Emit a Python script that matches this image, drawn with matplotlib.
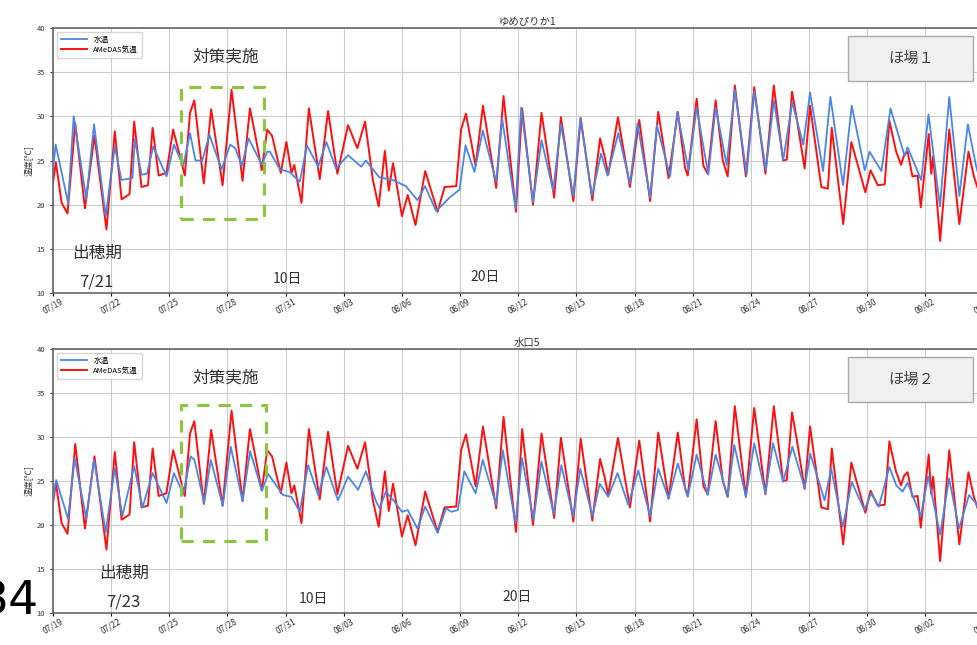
import matplotlib
matplotlib.use("Agg")
import matplotlib.pyplot as plt
from matplotlib.patches import Rectangle

plt.rcParams['font.family'] = ['Noto Sans CJK JP', 'DejaVu Sans']

# days since 07/19 00:00, values read at the turning points of each curve
air_t = [0.0, 0.15, 0.45, 0.75, 1.15, 1.65, 2.14, 2.76, 3.19, 3.54, 3.95, 4.19, 4.57, 4.9,
         5.14, 5.45, 5.85, 6.2, 6.8, 7.07, 7.29, 7.78, 8.16, 8.75, 9.21, 9.78, 10.16, 10.38,
         10.77, 11.05, 11.3, 11.75, 12.04, 12.3, 12.45, 12.82, 13.2, 13.76, 14.19, 14.67,
         15.22, 15.7, 16.1, 16.5, 16.8, 17.12, 17.32, 17.54, 18.0, 18.3, 18.7, 19.2, 19.84,
         20.2, 20.8, 21.05, 21.3, 21.8, 22.18, 22.86, 23.24, 23.88, 24.2, 24.76, 25.2, 25.85,
         26.2, 26.84, 27.22, 27.82, 28.22, 28.45, 28.64, 29.14, 29.76, 30.24, 30.8, 31.22,
         31.75, 32.23, 32.6, 32.74, 33.2, 33.55, 33.77, 34.18, 34.55, 34.8, 35.17, 35.74,
         36.17, 36.75, 37.18, 37.66, 37.85, 38.12, 38.35, 38.77, 39.05, 39.63, 39.97, 40.17,
         40.76, 41.18, 41.9, 42.17, 42.54, 42.9, 43.14, 43.48, 43.74, 43.9, 44.08, 44.33,
         44.6, 44.76, 45.17, 45.3, 45.4, 45.76, 46.23, 46.75, 47.22, 47.5, 47.9]
air_v = [22.5, 24.8, 20.2, 19.0, 29.2, 19.6, 27.8, 17.2, 28.3, 20.6, 21.2, 29.4, 22.0, 22.2,
         28.7, 23.3, 23.6, 28.5, 23.3, 30.4, 31.8, 22.4, 30.8, 22.2, 33.0, 22.7, 30.9, 28.5,
         23.9, 28.5, 27.8, 23.6, 27.1, 23.6, 24.5, 20.2, 30.9, 22.9, 30.6, 23.5,
         29.0, 26.4, 29.4, 22.8, 19.8, 26.1, 21.6, 24.7, 18.7, 21.1, 17.7, 23.8, 19.2,
         22.0, 22.1, 28.5, 30.3, 24.4, 31.2, 21.9, 32.3, 19.2, 30.9, 20.0, 30.4, 20.8,
         29.9, 20.4, 29.8, 20.5, 27.5, 25.5, 23.4, 29.9, 22.0, 29.6, 20.4, 30.5,
         23.0, 30.5, 24.2, 23.3, 32.0, 24.4, 23.5, 31.8, 25.0, 23.2, 33.5, 23.2,
         33.3, 23.5, 33.5, 25.0, 25.1, 32.8, 29.9, 24.1, 31.2, 22.0, 21.8, 28.7,
         17.8, 27.1, 21.4, 23.9, 22.2, 22.3, 29.5, 26.1, 24.5, 25.6, 26.0, 23.2,
         23.3, 19.7, 28.0, 23.5, 25.5, 15.9, 28.5, 17.8, 26.0, 23.2, 20.5]

water1_t = [0.0, 0.14, 0.78, 1.07, 1.72, 2.12, 2.72, 3.19, 3.53, 4.1, 4.22, 4.57, 4.85, 5.17,
            5.86, 6.24, 6.72, 7.07, 7.35, 7.7, 8.07, 8.7, 9.14, 9.4, 9.74, 10.09, 10.78, 11.05,
            11.19, 11.7, 12.2, 12.73, 13.1, 13.68, 14.1, 14.6, 15.22, 15.9, 16.14, 16.83,
            17.52, 18.2, 18.8, 19.19, 19.76, 20.1, 20.45, 20.97, 21.28, 21.74, 22.17, 22.86,
            23.17, 23.86, 24.15, 24.76, 25.2, 25.8, 26.2, 26.84, 27.2, 27.8, 28.27, 28.6,
            29.16, 29.76, 30.15, 30.8, 31.15, 31.83, 32.2, 32.78, 33.2, 33.8, 34.18, 34.75,
            35.17, 35.78, 36.17, 36.77, 37.18, 37.67, 38.13, 38.7, 39.05, 39.72, 40.1, 40.75,
            41.2, 41.87, 42.12, 42.73, 43.2, 43.93, 44.08, 44.78, 45.16, 45.75, 46.23, 46.75,
            47.19, 47.6, 47.9]
water1_v = [24.0, 26.8, 20.2, 30.0, 20.6, 29.1, 18.7, 26.6, 22.8, 23.0, 27.4, 23.4, 23.5, 26.6,
            23.2, 26.8, 24.4, 28.1, 25.0, 25.0, 27.9, 24.0, 26.8, 26.4, 24.4, 27.5, 24.5, 26.0,
            26.0, 24.0, 23.7, 22.6, 26.7, 24.3, 27.1, 24.1, 25.6, 24.3, 25.0, 23.1,
            22.8, 22.1, 20.5, 22.1, 19.3, 20.0, 20.8, 21.7, 26.7, 23.7, 28.4, 22.6,
            29.7, 19.6, 31.0, 20.3, 27.3, 21.6, 29.1, 21.0, 29.8, 21.0, 25.8, 23.3,
            28.1, 22.4, 29.2, 20.8, 29.0, 23.2, 30.5, 23.9, 31.0, 23.4, 31.0, 24.5,
            33.0, 23.4, 32.8, 23.9, 31.8, 25.1, 31.6, 26.8, 32.7, 23.8, 32.2, 22.2,
            31.2, 23.9, 26.0, 23.8, 30.9, 25.5, 26.5, 22.8, 30.2, 19.8, 32.2, 21.0,
            29.1, 24.5, 22.0]

water2_t = [0.0, 0.17, 0.78, 1.12, 1.72, 2.12, 2.72, 3.19, 3.58, 4.19, 4.62, 5.14, 5.86, 6.24,
            6.72, 7.1, 7.3, 7.8, 8.14, 8.76, 9.17, 9.78, 10.17, 10.78, 11.1, 11.87, 12.3,
            12.73, 13.16, 13.68, 14.1, 14.7, 15.22, 15.74, 16.14, 16.66, 16.85, 17.17, 17.6,
            18.0, 18.3, 18.8, 19.2, 19.84, 20.27, 20.55, 20.88, 21.22, 21.8, 22.17, 22.86,
            23.2, 23.86, 24.19, 24.79, 25.19, 25.83, 26.22, 26.83, 27.2, 27.83, 28.2, 28.64,
            29.12, 29.67, 30.19, 30.8, 31.22, 31.75, 32.23, 32.74, 33.2, 33.77, 34.18, 34.8,
            35.14, 35.74, 36.17, 36.75, 37.14, 37.66, 38.14, 38.77, 39.06, 39.8, 40.14, 40.74,
            41.2, 41.85, 42.2, 42.6, 43.14, 43.5, 43.82, 44.08, 44.76, 45.14, 45.76, 46.22,
            46.73, 47.25, 47.6, 47.9]
water2_v = [23.0, 25.1, 20.7, 27.6, 20.7, 27.4, 19.2, 26.5, 21.0, 26.7, 22.0, 25.9, 22.5, 25.9,
            23.5, 27.8, 27.4, 22.5, 27.4, 22.2, 28.9, 22.7, 28.4, 23.9, 25.8, 23.4, 23.2,
            21.5, 26.8, 23.4, 26.6, 22.8, 25.5, 24.0, 26.1, 22.7, 21.9, 23.8, 22.7,
            21.5, 21.7, 19.6, 22.1, 19.1, 21.9, 21.5, 21.7, 26.1, 23.6, 27.4, 22.3,
            28.5, 20.2, 27.6, 20.6, 27.2, 21.3, 26.8, 21.0, 26.4, 21.0, 24.7, 23.2,
            25.9, 22.3, 26.2, 21.0, 26.4, 23.0, 27.0, 23.2, 28.0, 23.4, 28.0, 23.2,
            29.1, 23.2, 29.3, 23.6, 29.3, 24.9, 28.9, 24.2, 28.1, 22.8, 26.4, 19.8,
            24.9, 21.7, 23.6, 22.1, 26.6, 24.5, 23.8, 24.8, 21.0, 25.5, 18.9, 25.3,
            19.6, 23.4, 22.5, 21.0]

tick_days = [0, 3, 6, 9, 12, 15, 18, 21, 24, 27, 30, 33, 36, 39, 42, 45, 48]
tick_labels = ['07/19', '07/22', '07/25', '07/28', '07/31', '08/03', '08/06', '08/09',
               '08/12', '08/15', '08/18', '08/21', '08/24', '08/27', '08/30', '09/02', '09/05']

panels = [
    {'title': 'ゆめぴりか1', 'water_t': water1_t, 'water_v': water1_v, 'field': 'ほ場１',
     'heading': '7/21', 'rect': (6.6, 18.4, 4.28, 14.9),
     'pos': [0.0542, 0.5457, 0.9704, 0.4109]},
    {'title': '水口5', 'water_t': water2_t, 'water_v': water2_v, 'field': 'ほ場２',
     'heading': '7/23', 'rect': (6.6, 18.2, 4.38, 15.4),
     'pos': [0.0542, 0.0496, 0.9704, 0.4093]},
]

fig = plt.figure(figsize=(9.77, 6.45), dpi=100)

for i, p in enumerate(panels):
    ax = fig.add_axes(p['pos'])
    ax.plot(p['water_t'], p['water_v'], color='#4a86e8', lw=1.3, label='水温', zorder=3,
            solid_joinstyle='round')
    ax.plot(air_t, air_v, color='#ff1010', lw=1.4, label='AMeDAS気温', zorder=2,
            solid_joinstyle='round')
    ax.set_xlim(0, 48.9)
    ax.set_ylim(10, 40)
    ax.set_yticks([10, 15, 20, 25, 30, 35, 40])
    ax.set_xticks(tick_days)
    ax.set_xticklabels(tick_labels, rotation=30, fontsize=6, color='#333333')
    ax.tick_params(axis='y', labelsize=5.5, colors='#333333', length=2)
    ax.tick_params(axis='x', length=2, pad=1)
    ax.grid(True, color='#cccccc', lw=0.8)
    ax.set_axisbelow(True)
    for s in ax.spines.values():
        s.set_color('#666666')
        s.set_linewidth(1.2)
    ax.set_ylabel('温度[℃]', fontsize=6, color='#333333', labelpad=2)
    ax.set_title(p['title'], fontsize=7.5, color='#333333', pad=2)
    leg = ax.legend(loc='upper left', fontsize=5.5, frameon=True, handlelength=3.5,
                    borderpad=0.5, labelspacing=0.3)
    leg.get_frame().set_edgecolor('#cccccc')

    x0, y0, w, h = p['rect']
    ax.add_patch(Rectangle((x0, y0), w, h, fill=False, ec='#8cc63e', lw=2.2,
                           ls=(0, (4, 3)), zorder=4, clip_on=False))
    ax.text(8.9, 36.7, '対策実施', fontsize=12, color='#333333', ha='center', va='center')

    off = 0.0 if i == 0 else 1.35
    ax.text(2.3 + off, 14.5, '出穂期', fontsize=12, color='#333333', ha='center', va='center')
    ax.text(2.25 + off, 11.2, p['heading'], fontsize=12, color='#333333', ha='center', va='center')
    ax.text(12.1 + off, 11.6, '10日', fontsize=10, color='#333333', ha='center', va='center')
    ax.text(22.3 + off * 1.2, 11.8, '20日', fontsize=10, color='#333333', ha='center', va='center')

    # field label box, axes fraction coordinates
    ax.add_patch(Rectangle((0.839, 0.80), 0.131, 0.17, transform=ax.transAxes,
                           fc='#f0f0f0', ec='#aaaaaa', lw=1, zorder=5))
    ax.text(0.905, 0.885, p['field'], transform=ax.transAxes, fontsize=11,
            color='#444444', ha='center', va='center', zorder=6)

fig.text(0.040, 0.066, '34', fontsize=34, color='black', ha='right', va='center',
         family='DejaVu Sans')

fig.savefig('out.png', dpi=100)
